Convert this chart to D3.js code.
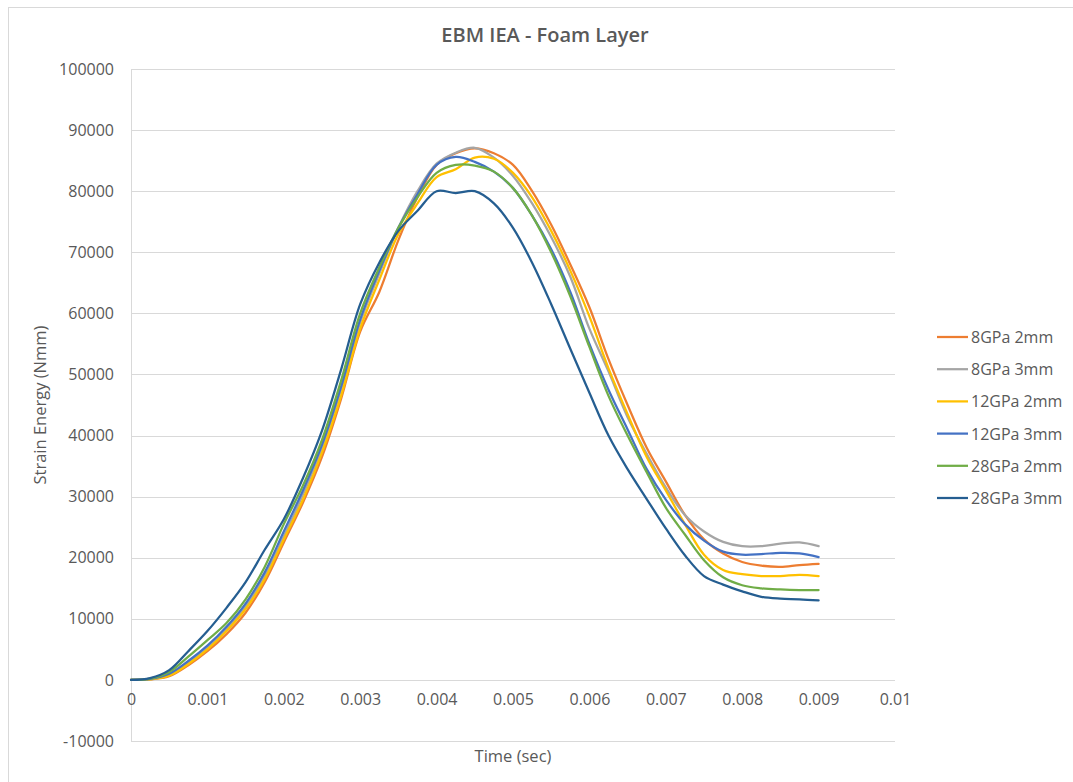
<!DOCTYPE html>
<html>
<head>
<meta charset="utf-8">
<script src="https://cdn.jsdelivr.net/npm/d3@7"></script>
<style>
  body { margin: 0; background: #fff; }
  svg { display: block; }
  text { font-family: "Open Sans", "Liberation Sans", sans-serif; fill: #595959; }
</style>
</head>
<body>
<svg id="chart" width="1073" height="782"></svg>
<script>
// time in milliseconds-steps (converted to seconds below)
const timesMs = [0,0.25,0.5,0.75,1.0,1.25,1.5,1.75,2.0,2.25,2.5,2.75,3.0,3.25,3.5,3.75,4.0,4.25,4.5,4.75,5.0,5.25,5.5,5.75,6.0,6.25,6.5,6.75,7.0,7.25,7.5,7.75,8.0,8.25,8.5,8.75,9.0];

const seriesNames = ["8GPa 2mm","8GPa 3mm","12GPa 2mm","12GPa 3mm","28GPa 2mm","28GPa 3mm"];
const seriesColors = ["#ED7D31","#A5A5A5","#FFC000","#4472C4","#70AD47","#255E91"];

const s8GPa2mm  = [0,100,600,2400,4700,7500,11000,16000,22500,29000,36500,46000,57000,63500,72000,79000,84300,86200,87000,86200,84300,80000,74500,68000,61000,52500,45000,38000,32500,27000,23000,20700,19300,18700,18500,18800,19000];
const s8GPa3mm  = [0,100,800,2800,5200,8300,12000,17000,23500,30300,38000,47500,58500,66500,74000,80000,84500,86300,87100,85500,82500,78000,72500,66000,57500,50500,43000,37000,31500,27000,24300,22600,21900,21900,22300,22500,21900];
const s12GPa2mm = [0,100,700,2600,5000,8000,11600,16500,23000,29500,37200,46500,57500,65500,73000,78000,82300,83600,85500,85300,83000,79000,73500,67000,59500,51000,43500,36500,31000,25500,20500,18000,17300,17000,17000,17200,17000];
const s12GPa3mm = [0,150,1000,3100,5600,8700,12500,17600,24300,31000,38500,48000,59000,67000,74000,79500,84300,85600,84800,83200,80500,76000,70500,63500,55000,47500,41000,34500,29500,25500,22800,21000,20500,20600,20800,20700,20100];
const s28GPa2mm = [0,200,1300,3800,6500,9300,13200,18500,25500,31800,39300,49000,60000,67500,74000,79000,83000,84300,84200,83200,80500,76000,70000,62800,54500,46500,40000,34000,28200,23800,19600,16800,15500,15000,14800,14700,14700];
const s28GPa3mm = [0,300,1600,4700,8000,11800,16000,21300,26300,33000,40800,50800,61500,68300,73500,76800,80000,79700,80000,78000,74000,68300,61500,54200,47000,40000,34500,29600,24800,20400,17000,15600,14500,13600,13300,13200,13000];

const yTicks = [-10000,0,10000,20000,30000,40000,50000,60000,70000,80000,90000,100000];
const yTickLabels = ["-10000","0","10000","20000","30000","40000","50000","60000","70000","80000","90000","100000"];
const xTicks = [0,0.001,0.002,0.003,0.004,0.005,0.006,0.007,0.008,0.009,0.01];
const xTickLabels = ["0","0.001","0.002","0.003","0.004","0.005","0.006","0.007","0.008","0.009","0.01"];

const titleText = "EBM IEA - Foam Layer";
const xTitle = "Time (sec)";
const yTitle = "Strain Energy (Nmm)";

const allValues = [s8GPa2mm, s8GPa3mm, s12GPa2mm, s12GPa3mm, s28GPa2mm, s28GPa3mm];
const times = timesMs.map(t => t / 1000);

const svg = d3.select("#chart");

// outer chart border
svg.append("rect").attr("x", 8.5).attr("y", 7.5).attr("width", 1070).attr("height", 780)
  .attr("fill", "#fff").attr("stroke", "#D9D9D9").attr("stroke-width", 1);

const plot = { left: 131, right: 895, top: 69, bottom: 741 };
const x = d3.scaleLinear().domain([0, 0.01]).range([plot.left, plot.right]);
const y = d3.scaleLinear().domain([-10000, 100000]).range([plot.bottom, plot.top]);

// gridlines
svg.append("g").selectAll("line").data(yTicks).join("line")
  .attr("x1", plot.left).attr("x2", plot.right)
  .attr("y1", d => Math.round(y(d)) + 0.5).attr("y2", d => Math.round(y(d)) + 0.5)
  .attr("stroke", "#D9D9D9").attr("stroke-width", 1);

// vertical axis line
svg.append("line").attr("x1", plot.left + 0.5).attr("x2", plot.left + 0.5)
  .attr("y1", plot.top).attr("y2", plot.bottom)
  .attr("stroke", "#D9D9D9").attr("stroke-width", 1);

// y axis labels
const yAxis = d3.axisLeft(y).tickValues(yTicks).tickSize(0).tickPadding(17)
  .tickFormat((d, i) => yTickLabels[i]);
const yg = svg.append("g").attr("transform", `translate(${plot.left},0)`).call(yAxis);
yg.select(".domain").remove();
yg.selectAll("text").style("font-size", "16px").attr("fill", "#595959");

// x axis labels (axis crosses at 0)
const xAxis = d3.axisBottom(x).tickValues(xTicks).tickSize(0).tickPadding(14)
  .tickFormat((d, i) => xTickLabels[i]);
const xg = svg.append("g").attr("transform", `translate(0,${y(0)})`).call(xAxis);
xg.select(".domain").remove();
xg.selectAll("text").style("font-size", "16px").attr("fill", "#595959");

// lines
const line = d3.line().x((d, i) => x(times[i])).y(d => y(d)).curve(d3.curveCatmullRom.alpha(0.5));
svg.append("g").selectAll("path").data(seriesNames.map((n, i) => i)).join("path")
  .attr("d", i => line(allValues[i]))
  .attr("fill", "none")
  .attr("stroke", i => seriesColors[i])
  .attr("stroke-width", 2.25)
  .attr("stroke-linejoin", "round")
  .attr("stroke-linecap", "round");

// title
svg.append("text").attr("x", 545).attr("y", 42).attr("text-anchor", "middle")
  .style("font-size", "20px").style("font-weight", "600").text(titleText);

// axis titles
svg.append("text").attr("x", 513).attr("y", 762).attr("text-anchor", "middle")
  .style("font-size", "16.5px").text(xTitle);
svg.append("text").attr("transform", "translate(46,405) rotate(-90)").attr("text-anchor", "middle")
  .style("font-size", "16.5px").text(yTitle);

// legend
const lg = svg.append("g");
seriesNames.forEach((name, i) => {
  const ly = 337 + i * 32.2;
  lg.append("line").attr("x1", 937).attr("x2", 968).attr("y1", ly).attr("y2", ly)
    .attr("stroke", seriesColors[i]).attr("stroke-width", 2.25);
  lg.append("text").attr("x", 971).attr("y", ly + 6).style("font-size", "16px").text(name);
});
</script>
</body>
</html>
